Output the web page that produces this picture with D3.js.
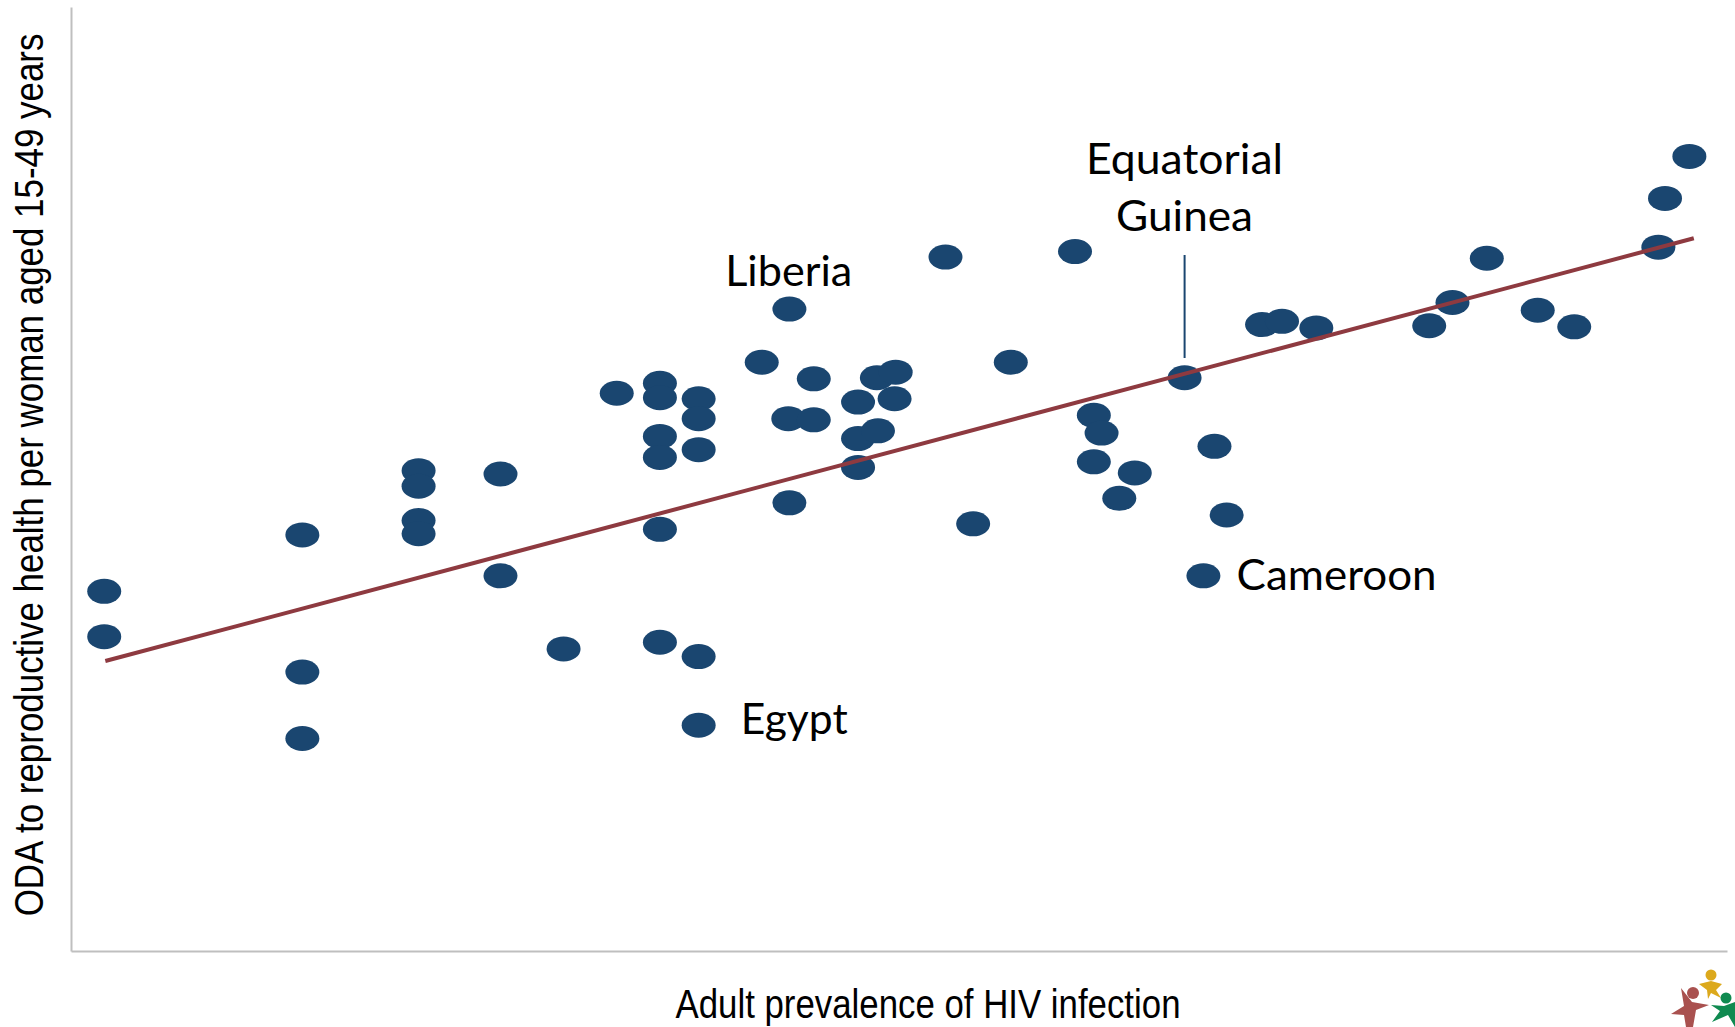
<!DOCTYPE html>
<html>
<head>
<meta charset="utf-8">
<script src="https://cdnjs.cloudflare.com/ajax/libs/d3/7.8.5/d3.min.js"></script>
<style>
  html, body { margin: 0; padding: 0; background: #fff; }
  svg { display: block; }
  .axisTitle { font-family: "Liberation Sans", Arial, sans-serif; font-size: 40px; fill: #000; }
  .label { font-family: Lato, "Open Sans", sans-serif; font-size: 43px; fill: #000; }
</style>
</head>
<body>
<svg></svg>
<script>
// values, no ticks on the original so units are arbitrary
var prevalence = [30,30,209,209,209,314,314,314,314,388,388,445,493,532,532,532,532,532,532,
  567,567,567,567,567,624,649,648,649,671,671,711,711,711,728,745,744,729,790,815,849,907,
  924,931,924,961,947,1006,1033,1044,1023,1076,1094,1125,1227,1248,1279,1325,1358,1434,1440,1462];
var oda = [325,284,376,252,192,434,420,389,377,431,339,273,504,513,500,465,446,381,279,
  499,481,453,266,204,532,580,481,405,517,480,496,463,437,518,523,499,470,627,386,532,632,
  484,468,442,432,409,518,456,394,339,566,569,563,565,586,626,579,564,636,680,718];
var fitPrevalence = [31,1466];
var fitOda = [262,644];

var labels = ['Liberia','Equatorial','Guinea','Cameroon','Egypt'];
var labelX = [591,1006,1006,1053,605];
var labelY = [601,702,651,326,196];
var labelWidth = [127,197,137,200,107];
var labelAnchor = ['start','middle','middle','start','start'];

var xTitle = 'Adult prevalence of HIV infection';
var yTitle = 'ODA to reproductive health per woman aged 15-49 years';

var svgWidth = 1735;
var svgHeight = 1027;

var xScale = d3.scaleLinear().domain([0,1496]).range([71,1727]);
var yScale = d3.scaleLinear().domain([0,853]).range([951,7]);

var svg = d3.select('svg').attr('width',svgWidth).attr('height',svgHeight);

// axis lines only, the original has no ticks
svg.append('g').attr('transform','translate(0,951)')
   .call(d3.axisBottom(xScale).tickValues([]).tickSizeOuter(0))
   .select('.domain').attr('stroke','#bfbfbf').attr('stroke-width',2);
svg.append('g').attr('transform','translate(71,0)')
   .call(d3.axisLeft(yScale).tickValues([]).tickSizeOuter(0))
   .select('.domain').attr('stroke','#bfbfbf').attr('stroke-width',2);

svg.append('g').selectAll('ellipse')
   .data(prevalence)
   .enter()
   .append('ellipse')
   .attr('cx',(d) => xScale(d))
   .attr('cy',(d,i) => yScale(oda[i]))
   .attr('rx',17)
   .attr('ry',12.5)
   .attr('fill','#1a4670');

var fitLine = d3.line().x((d) => xScale(d)).y((d,i) => yScale(fitOda[i]));
svg.append('path')
   .attr('d',fitLine(fitPrevalence))
   .attr('fill','none')
   .attr('stroke','#8e3a40')
   .attr('stroke-width',4);

// leader for Equatorial Guinea
svg.append('line')
   .attr('x1',xScale(1006)).attr('x2',xScale(1006))
   .attr('y1',255).attr('y2',358)
   .attr('stroke','#1a4670').attr('stroke-width',2);

svg.append('g').selectAll('text')
   .data(labels)
   .enter()
   .append('text')
   .classed('label',true)
   .text((d) => d)
   .attr('x',(d,i) => xScale(labelX[i]))
   .attr('y',(d,i) => yScale(labelY[i]))
   .attr('text-anchor',(d,i) => labelAnchor[i])
   .attr('textLength',(d,i) => labelWidth[i])
   .attr('lengthAdjust','spacingAndGlyphs');

svg.append('text')
   .classed('axisTitle',true)
   .text(xTitle)
   .attr('text-anchor','middle')
   .attr('textLength',505)
   .attr('lengthAdjust','spacingAndGlyphs')
   .attr('x',928)
   .attr('y',1018);

// squeezed with a scale, the original title is condensed
var yLabel = svg.append('text')
   .classed('axisTitle',true)
   .text(yTitle)
   .attr('text-anchor','middle');
var yStretch = 883/yLabel.node().getComputedTextLength();
yLabel.attr('transform','translate(43,475)rotate(-90)scale('+yStretch+',1)');

// logo in the bottom corner
var logo = svg.append('g');
logo.append('circle').attr('cx',1711).attr('cy',975).attr('r',5.5).attr('fill','#dca91c');
logo.append('path').attr('fill','#dca91c')
    .attr('d','M1699,984 L1711,981 L1722,984 L1716,990 L1721,998 L1711,993 L1708,999 L1707,990 Z');
logo.append('circle').attr('cx',1693).attr('cy',993).attr('r',6).attr('fill','#a9514f');
logo.append('path').attr('fill','#a9514f')
    .attr('d','M1681,988 L1692,1002 L1709,1005 L1696,1010 L1693,1027 L1686,1027 L1684,1015 L1671,1014 L1684,1006 Z');
logo.append('circle').attr('cx',1726).attr('cy',998).attr('r',5.5).attr('fill','#0f8a50');
logo.append('path').attr('fill','#0f8a50')
    .attr('d','M1711,1005 L1724,1006 L1735,1002 L1735,1027 L1728,1015 L1712,1022 L1720,1011 Z');
</script>
</body>
</html>
